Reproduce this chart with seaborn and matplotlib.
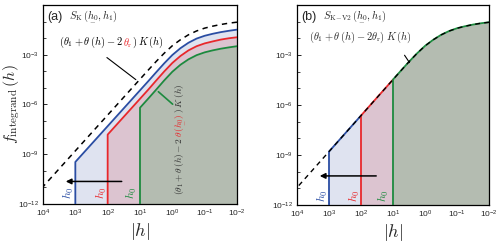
import numpy as np
import pandas as pd
import seaborn as sns
import matplotlib.pyplot as plt
from matplotlib.ticker import FixedLocator, FuncFormatter, NullFormatter

# ---------------------------------------------------------
# Data (log10 values)
# ---------------------------------------------------------
log_h = [4.0, 3.75, 3.5, 3.25, 3.0, 2.75, 2.5, 2.25, 2.0, 1.75, 1.5, 1.25, 1.0,
         0.75, 0.5, 0.25, 0.0, -0.25, -0.5, -0.75, -1.0, -1.25, -1.5, -1.75, -2.0]

# upper (dashed) curve
log_f_upper = [-10.96, -10.42, -9.88, -9.34, -8.80, -8.26, -7.72, -7.18, -6.64,
               -6.10, -5.56, -5.02, -4.48, -3.94, -3.41, -2.91, -2.46, -2.10,
               -1.80, -1.57, -1.40, -1.28, -1.18, -1.10, -1.04]
# (theta_1 + theta(h) - 2 theta(h0)) K(h) for the three h0
log_f_blue = [-11.63, -11.09, -10.55, -10.01, -9.47, -8.93, -8.39, -7.85, -7.31,
              -6.77, -6.23, -5.69, -5.15, -4.61, -4.06, -3.52, -3.02, -2.61,
              -2.28, -2.03, -1.86, -1.74, -1.64, -1.56, -1.49]
log_f_red = [-12.14, -11.60, -11.06, -10.52, -9.98, -9.44, -8.90, -8.36, -7.82,
             -7.28, -6.74, -6.20, -5.66, -5.12, -4.56, -4.01, -3.50, -3.08,
             -2.74, -2.49, -2.32, -2.20, -2.09, -2.01, -1.95]
log_f_green = [-12.68, -12.14, -11.60, -11.06, -10.52, -9.98, -9.44, -8.90, -8.36,
               -7.82, -7.28, -6.74, -6.20, -5.66, -5.11, -4.55, -4.03, -3.61,
               -3.28, -3.03, -2.86, -2.74, -2.64, -2.56, -2.49]

h0_values = [1e3, 1e2, 1e1]
x_ticks = [1e4, 1e3, 1e2, 1e1, 1e0, 1e-1, 1e-2]
y_ticks = [1e-12, 1e-9, 1e-6, 1e-3]
y_floor = 1e-12

line_colors = ['#2a4da3', '#e8272b', '#1c8a3e']
fill_colors = ['#dfe3f0', '#dcc4d0', '#b4bcb1']

h = 10.0 ** np.array(log_h)
curves = {
    'upper': 10.0 ** np.array(log_f_upper),
    'blue': 10.0 ** np.array(log_f_blue),
    'red': 10.0 ** np.array(log_f_red),
    'green': 10.0 ** np.array(log_f_green),
}

# ---------------------------------------------------------
# Style
# ---------------------------------------------------------
sns.set_style('ticks')
plt.rcParams['font.family'] = ['Liberation Sans', 'DejaVu Sans']
plt.rcParams['mathtext.fontset'] = 'cm'
plt.rcParams['xtick.direction'] = 'in'
plt.rcParams['ytick.direction'] = 'in'
plt.rcParams['axes.edgecolor'] = 'black'
plt.rcParams['axes.linewidth'] = 0.9

H0_UL = r'\underset{-}{h_0}'   # underlined h0


def colored_text(ax, x, y, pieces, size, rotation=0):
    """Draw a string made of differently coloured pieces."""
    c0 = pieces[0][1]
    if rotation == 0:
        t = ax.text(x, y, pieces[0][0], color=c0, fontsize=size,
                    transform=ax.transAxes, va='bottom', ha='left')
        for s, c in pieces[1:]:
            t = ax.annotate(s, xy=(1, 0), xycoords=t, va='bottom', ha='left',
                            color=c, fontsize=size)
    else:
        t = ax.text(x, y, pieces[0][0], color=c0, fontsize=size, rotation=90,
                    transform=ax.transAxes, va='bottom', ha='center')
        for s, c in pieces[1:]:
            t = ax.annotate(s, xy=(0, 1), xycoords=t, va='bottom', ha='left',
                            color=c, fontsize=size, rotation=90)


def setup_axes(ax):
    ax.set_xscale('log')
    ax.set_yscale('log')
    ax.set_xlim(1e4, 1e-2)
    ax.set_ylim(1e-12, 1e0)
    ax.xaxis.set_major_locator(FixedLocator(x_ticks))
    ax.xaxis.set_minor_locator(FixedLocator([]))
    ax.yaxis.set_major_locator(FixedLocator(y_ticks))
    ax.yaxis.set_minor_locator(FixedLocator([10.0 ** k for k in range(-12, 1)]))
    ax.yaxis.set_minor_formatter(NullFormatter())
    fmt = FuncFormatter(lambda v, p: r'$\mathregular{10^{%d}}$' % round(np.log10(v)))
    ax.xaxis.set_major_formatter(fmt)
    ax.yaxis.set_major_formatter(fmt)
    ax.tick_params(which='major', length=3, width=0.7, labelsize=6, pad=3)
    ax.tick_params(which='minor', length=2, width=0.6)
    ax.set_xlabel(r'$|h|$', fontsize=13, labelpad=1)
    ax.set_ylabel('')
    for s in ax.spines.values():
        s.set_visible(True)


def region_df(x, y, h0):
    mask = x <= h0
    return pd.DataFrame({'h': np.concatenate([[h0], x[mask]]),
                         'f': np.concatenate([[y_floor], y[mask]])})


fig = plt.figure(figsize=(5.0, 2.46), dpi=100)
ax_a = fig.add_axes([0.086, 0.171, 0.388, 0.809])
ax_b = fig.add_axes([0.594, 0.167, 0.384, 0.813])

# ---------------------------------------------------------
# Panel (a)
# ---------------------------------------------------------
for h0, key, lc, fc in zip(h0_values, ['blue', 'red', 'green'], line_colors, fill_colors):
    mask = h <= h0
    ax_a.fill_between(h[mask], y_floor, curves[key][mask], color=fc, lw=0, zorder=1)
for h0, key, lc in zip(h0_values, ['blue', 'red', 'green'], line_colors):
    sns.lineplot(data=region_df(h, curves[key], h0), x='h', y='f', ax=ax_a,
                 sort=False, estimator=None, color=lc, lw=1.3, zorder=3)
sns.lineplot(x=h, y=curves['upper'], ax=ax_a, color='black', lw=1.1,
             linestyle=(0, (3.5, 3)), zorder=4)
setup_axes(ax_a)
ax_a.set_ylabel(r'$f_{\rm integrand}\,(h)$', fontsize=11.5)
ax_a.yaxis.set_label_coords(-0.108, 0.5)

ax_a.text(0.022, 0.94, '(a)', transform=ax_a.transAxes, fontsize=9, va='center')
ax_a.text(0.135, 0.94, r'$S_{\rm K}\,(' + H0_UL + r', h_1)$', transform=ax_a.transAxes,
          fontsize=7.5, va='center')
colored_text(ax_a, 0.082, 0.775,
             [(r'$(\theta_1+\theta\,(h)-2$', 'black'),
              (r'$\theta_{\rm r}$', line_colors[1]),
              (r'$)\;K\,(h)$', 'black')], 7.5)
ax_a.annotate('', xy=(0.49, 0.616), xytext=(0.318, 0.744), xycoords='axes fraction',
              arrowprops=dict(arrowstyle='-', color='black', lw=0.8))
ax_a.annotate('', xy=(0.584, 0.573), xytext=(0.679, 0.492), xycoords='axes fraction',
              arrowprops=dict(arrowstyle='-', color=line_colors[2], lw=1.2))
colored_text(ax_a, 0.706, 0.045,
             [(r'$(\theta_1+\theta\,(h)-2\,$', '#333333'),
              (r'$\theta\,(' + H0_UL + r')$', line_colors[1]),
              (r'$)\;K\,(h)$', '#333333')], 6.8, rotation=90)
for xf, c in zip([0.129, 0.3, 0.455], line_colors):
    ax_a.text(xf, 0.055, r'$h_0$', color=c, rotation=90, fontsize=8.5,
              transform=ax_a.transAxes, ha='center', va='center')
ax_a.annotate('', xy=(0.103, 0.113), xytext=(0.42, 0.113), xycoords='axes fraction',
              arrowprops=dict(arrowstyle='-|>', color='black', lw=1.1, mutation_scale=8))

# ---------------------------------------------------------
# Panel (b)
# ---------------------------------------------------------
for h0, fc in zip(h0_values, fill_colors):
    mask = h <= h0
    ax_b.fill_between(h[mask], y_floor, curves['upper'][mask], color=fc, lw=0, zorder=1)
bounds = h0_values + [1e-2]
for i, lc in enumerate(line_colors):
    hi, lo = bounds[i], bounds[i + 1]
    seg = (h <= hi) & (h >= lo)
    df = pd.DataFrame({'h': np.concatenate([[hi], h[seg]]),
                       'f': np.concatenate([[y_floor], curves['upper'][seg]])})
    sns.lineplot(data=df, x='h', y='f', ax=ax_b, sort=False, estimator=None,
                 color=lc, lw=1.3, zorder=3)
sns.lineplot(x=h, y=curves['upper'], ax=ax_b, color='black', lw=1.0,
             linestyle=(0, (3.5, 3)), zorder=4)
setup_axes(ax_b)

ax_b.text(0.022, 0.94, '(b)', transform=ax_b.transAxes, fontsize=9, va='center')
ax_b.text(0.135, 0.94, r'$S_{\rm K\!-\!V2}\,(' + H0_UL + r', h_1)$',
          transform=ax_b.transAxes, fontsize=7.5, va='center')
ax_b.text(0.06, 0.80, r'$(\theta_1+\theta\,(h)-2\theta_{\rm r})\;K\,(h)$',
          transform=ax_b.transAxes, fontsize=7.5, va='bottom')
ax_b.annotate('', xy=(0.594, 0.70), xytext=(0.552, 0.76), xycoords='axes fraction',
              arrowprops=dict(arrowstyle='-', color='black', lw=0.8))
for xf, c in zip([0.135, 0.297, 0.453], line_colors):
    ax_b.text(xf, 0.045, r'$h_0$', color=c, rotation=90, fontsize=8.5,
              transform=ax_b.transAxes, ha='center', va='center')
ax_b.annotate('', xy=(0.104, 0.145), xytext=(0.427, 0.145), xycoords='axes fraction',
              arrowprops=dict(arrowstyle='-|>', color='black', lw=1.1, mutation_scale=8))

fig.savefig('out.png', dpi=100)
